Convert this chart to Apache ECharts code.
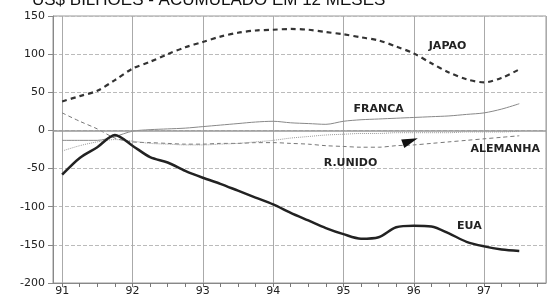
<!DOCTYPE html>
<html><head><meta charset="utf-8">
<script src="https://cdn.jsdelivr.net/npm/echarts@6/dist/echarts.min.js"></script>
<style>html,body{margin:0;padding:0;background:#fff}#c{width:548px;height:297px}</style>
</head><body><div id="c"></div>
<script>
const titleText = 'US$ BILHÕES - ACUMULADO EM 12 MESES';
const quarters = [91,91.25,91.5,91.75,92,92.25,92.5,92.75,93,93.25,93.5,93.75,94,94.25,94.5,94.75,95,95.25,95.5,95.75,96,96.25,96.5,96.75,97,97.25,97.5];
const yearTicks = [91,92,93,94,95,96,97];
const quarterTicks = [91,91.25,91.5,91.75,92,92.25,92.5,92.75,93,93.25,93.5,93.75,94,94.25,94.5,94.75,95,95.25,95.5,95.75,96,96.25,96.5,96.75,97,97.25,97.5,97.75];
const japao    = [38,45,52,66,81,90,100,109,116,123,128,131,132,133,132,129,126,122,118,110,101,88,76,67,63,69,80];
const franca   = [-13,-13,-13,-8,-1,1,2,3,5,7,9,11,12,10,9,8,12,14,15,16,17,18,19,21,23,28,35];
const alemanha = [23,12,2,-10,-15,-16,-17,-18,-18,-17,-17,-16,-16,-17,-18,-20,-21,-22,-22,-20,-19,-17,-15,-13,-11,-9,-7];
const runido   = [-27,-20,-15,-12,-14,-17,-18,-19,-19,-18,-17,-15,-13,-10,-8,-6,-5,-4,-4,-3,-3,-3,-3,-2,-2,-2,-1];
const eua      = [-58,-36,-22,-6,-20,-35,-42,-53,-62,-70,-79,-88,-97,-108,-118,-128,-136,-142,-140,-127,-125,-126,-135,-146,-152,-156,-158];
const seriesNames = ['JAPAO','FRANCA','ALEMANHA','R.UNIDO','EUA'];
const labelPos = [[96.48,111],[95.5,28],[97.3,-25],[95.1,-43],[96.79,-126]];
const arrowPos = [95.95,-14];

const pair = arr => quarters.map((q,i)=>[q,arr[i]]);
const lblStyle = {show:true, position:'inside', fontFamily:'DejaVu Sans', fontWeight:'bold', fontSize:11, color:'#222'};
function nameMark(i){
  return {symbol:'circle', symbolSize:0, silent:true, label:Object.assign({formatter:seriesNames[i]}, lblStyle),
    data:[{coord:labelPos[i]}]};
}
const chart = echarts.init(document.getElementById('c'), null, {renderer:'canvas'});
chart.setOption({
  animation:false,
  title:{text:titleText, left:32, top:-8, padding:0, textStyle:{fontFamily:'Liberation Sans', fontSize:17, fontWeight:'normal', color:'#111'}},
  grid:{left:53, right:2, top:16, bottom:13, show:true, borderColor:'#999', borderWidth:1},
  xAxis:[
    {type:'value', min:90.87, max:97.88, minInterval:1, maxInterval:1,
      axisLine:{show:true, onZero:false, lineStyle:{color:'#888'}},
      axisTick:{show:true, customValues:quarterTicks, length:4, lineStyle:{color:'#777'}},
      axisLabel:{customValues:yearTicks, formatter:v=>String(Math.round(v)), fontSize:11, margin:3, color:'#222', fontFamily:'DejaVu Sans'},
      splitLine:{show:false}},
    {type:'value', min:90.87, max:97.88, minInterval:1, maxInterval:1, position:'bottom',
      axisLine:{show:false}, axisTick:{show:false}, axisLabel:{show:false},
      splitLine:{show:true, lineStyle:{color:'#aaa', width:1}}}
  ],
  yAxis:{type:'value', min:-200, max:150, interval:50,
    axisLine:{show:true, lineStyle:{color:'#888'}},
    axisTick:{show:true, length:5, lineStyle:{color:'#888'}},
    axisLabel:{fontSize:11, margin:8, color:'#222', fontFamily:'DejaVu Sans'},
    splitLine:{show:true, lineStyle:{type:'dashed', color:'#bbb'}}},
  series:[
    {name:seriesNames[0], type:'line', data:pair(japao), showSymbol:false, smooth:0.3,
      lineStyle:{color:'#333', width:2.2, type:[5,4]}, markPoint:nameMark(0),
      markLine:{silent:true, symbol:['none','none'], label:{show:false}, lineStyle:{color:'#999', width:1.5, type:'solid'}, data:[{yAxis:0}]}},
    {name:seriesNames[1], type:'line', data:pair(franca), showSymbol:false, smooth:0.3,
      lineStyle:{color:'#888', width:1}, markPoint:nameMark(1)},
    {name:seriesNames[2], type:'line', data:pair(alemanha), showSymbol:false, smooth:0.3,
      lineStyle:{color:'#777', width:1, type:[4,3]},
      markPoint:{silent:true, data:[
        {coord:labelPos[2], symbol:'circle', symbolSize:0, label:Object.assign({formatter:seriesNames[2]}, lblStyle)},
        {coord:arrowPos, symbol:'triangle', symbolSize:[9,16], symbolRotate:-70, itemStyle:{color:'#111'}, label:{show:false}}
      ]}},
    {name:seriesNames[3], type:'line', data:pair(runido), showSymbol:false, smooth:0.3,
      lineStyle:{color:'#999', width:1, type:'dotted'}, markPoint:nameMark(3)},
    {name:seriesNames[4], type:'line', data:pair(eua), showSymbol:false, smooth:0.3,
      lineStyle:{color:'#222', width:2.5}, markPoint:nameMark(4)}
  ]
});
</script></body></html>
